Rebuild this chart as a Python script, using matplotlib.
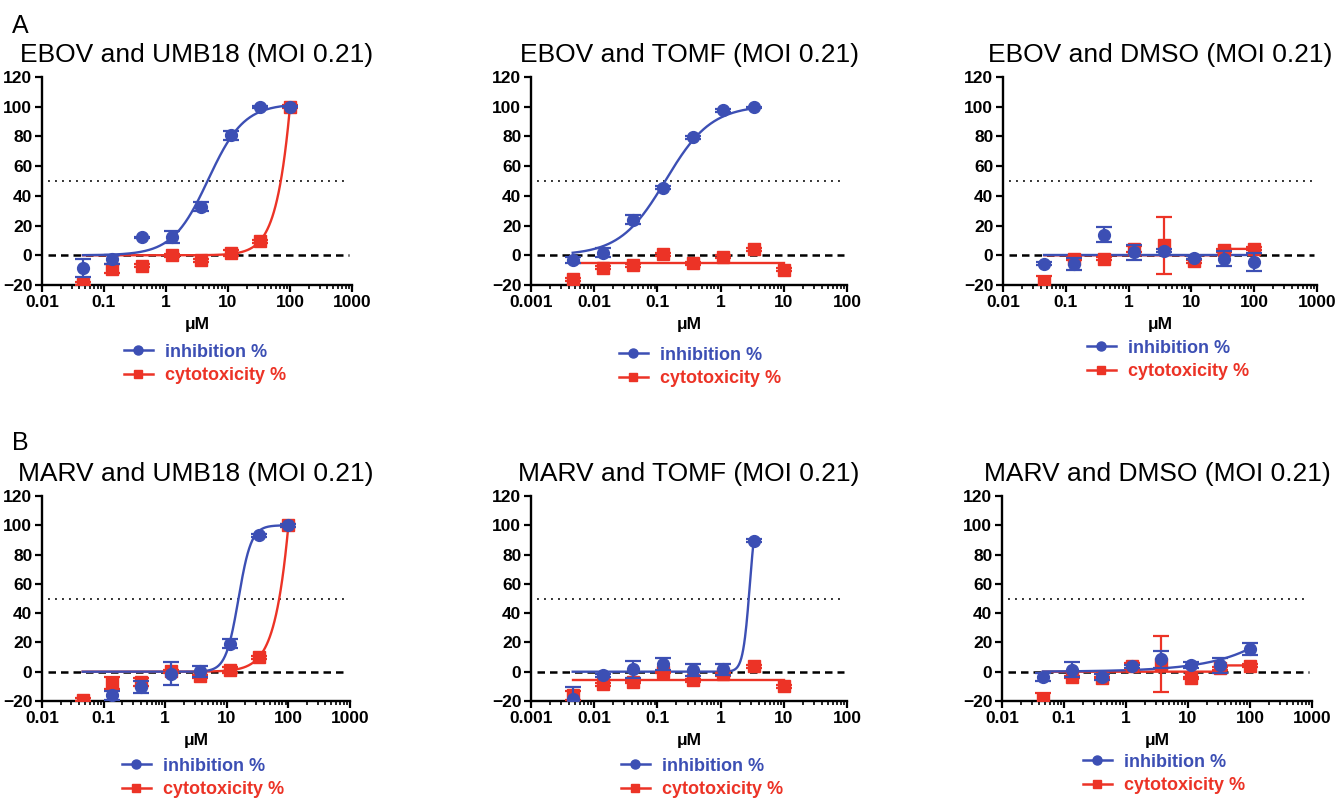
import numpy as np
import matplotlib
matplotlib.use('Agg')
import matplotlib.pyplot as plt
import matplotlib.ticker as mticker
from matplotlib.lines import Line2D

plt.rcParams['font.family'] = ['Liberation Sans', 'DejaVu Sans']

BLUE = '#3c4fb4'
RED = '#ec3326'

## Data
titles = ['EBOV and UMB18 (MOI 0.21)', 'EBOV and TOMF (MOI 0.21)', 'EBOV and DMSO (MOI 0.21)',
          'MARV and UMB18 (MOI 0.21)', 'MARV and TOMF (MOI 0.21)', 'MARV and DMSO (MOI 0.21)']

# concentrations in uM (3-fold dilutions)
conc_umb = [0.0457, 0.137, 0.412, 1.23, 3.70, 11.1, 33.3, 100]
conc_tomf = [0.00457, 0.0137, 0.0412, 0.123, 0.370, 1.11, 3.33, 10]

xlims = [(0.01, 1000), (0.001, 100), (0.01, 1000),
         (0.01, 1000), (0.001, 100), (0.01, 1000)]

# inhibition %
inh_x = [conc_umb, conc_tomf[:7], conc_umb, conc_umb[1:], conc_tomf[:7], conc_umb]
inh_y = [[-8.7, -2.7, 12.1, 12.5, 32.7, 80.9, 99.9, 100.0],
         [-2.9, 1.6, 23.8, 45.3, 79.3, 97.6, 99.5],
         [-5.6, -5.6, 13.8, 2.0, 3.1, -1.8, -2.4, -4.7],
         [-16.2, -10.5, -1.4, 0.2, 19.1, 93.1, 99.9],
         [-18.5, -2.5, 1.6, 5.5, 1.4, 1.6, 89.3],
         [-3.6, 1.4, -3.6, 3.6, 8.4, 4.3, 4.3, 15.7]]
inh_err = [[6, 3, 0.5, 4, 3, 3, 0.5, 0.5],
           [2, 3, 3, 1, 1, 1, 0.5],
           [1, 4, 5, 5, 1, 1, 5, 6],
           [3, 4, 8, 4, 3, 1, 1],
           [8, 1, 6, 4, 4, 4, 1],
           [3, 5, 2, 1, 6, 2, 5, 4]]

# cytotoxicity %
cyt_x = [conc_umb, conc_tomf, conc_umb, conc_umb, conc_tomf, conc_umb]
cyt_y = [[-19.3, -9.2, -7.0, 0.0, -3.4, 1.3, 9.6, 100.0],
         [-16.2, -8.4, -6.7, 0.7, -5.3, -0.9, 4.2, -9.6],
         [-18.0, -2.4, -2.4, 4.2, 6.7, -4.0, 3.3, 4.5],
         [-19.1, -7.7, -7.0, 0.2, -3.2, 1.4, 9.8, 100.0],
         [-16.2, -8.7, -7.0, -0.2, -5.9, -1.8, 3.6, -9.8],
         [-18.4, -3.6, -4.3, 4.1, 5.2, -4.3, 2.5, 4.1]]
cyt_err = [[1, 3, 1, 1, 1, 2, 1, 1],
           [1, 1, 1, 1, 1, 1, 1, 1],
           [4, 1, 1, 2, 19, 1, 1, 1],
           [1, 4, 3, 1, 1, 2, 1, 1],
           [3, 1, 1, 1, 1, 1, 1, 1],
           [4, 1, 1, 2, 19, 1, 1, 1]]

# fitted dose-response curves: (bottom, top, EC50, hill slope)
inh_fit = [(0, 102, 4.8, 1.5), (0, 101, 0.135, 1.2), (0, 0, 1, 1),
           (0, 100, 15.5, 4.2), (0, 120, 2.91, 7.9), (0, 1000, 96000, 0.6)]
cyt_fit = [(0, 1000, 274, 2.18), (-5.3, -5.3, 1, 1), (0, 4.3, 28, 40),
           (0, 1000, 274, 2.18), (-5.9, -5.9, 1, 1), (0, 4.3, 28, 40)]


def hill(x, bottom, top, ec50, slope):
    return bottom + (top - bottom) / (1 + (ec50 / x) ** slope)


## Layout (pixels: left, right, top, bottom)
W, H = 1344, 801
rects = [(42, 352, 77, 285), (531, 847, 77, 285), (1003, 1317, 77, 285),
         (42, 350, 496, 701), (531, 847, 496, 701), (1002, 1312, 496, 701)]
legend_pos = [(205, 364), (700, 367), (1168, 360), (203, 778), (702, 778), (1164, 774)]

fig = plt.figure(figsize=(W / 100, H / 100), dpi=100)
fig.text(12 / W, 1 - 33 / H, 'A', fontsize=18)
fig.text(12 / W, 1 - 450 / H, 'B', fontsize=18)

for i in range(6):
    l, r, t, b = rects[i]
    ax = fig.add_axes([l / W, 1 - b / H, (r - l) / W, (b - t) / H])
    ax.set_xscale('log')
    ax.set_xlim(*xlims[i])
    ax.set_ylim(-20, 120)

    ax.axhline(0, xmin=0.02, xmax=0.99, color='black', lw=1.8, ls=(0, (3, 2)), zorder=1)
    ax.axhline(50, xmin=0.02, xmax=0.99, color='#333333', lw=1.4, ls=(0, (1, 2.6)), zorder=1)

    lo = min(min(inh_x[i]), min(cyt_x[i]))
    xc = np.logspace(np.log10(lo), np.log10(max(cyt_x[i])), 400)
    ax.plot(xc, hill(xc, *cyt_fit[i]), color=RED, lw=1.7, zorder=2)
    xi = np.logspace(np.log10(lo), np.log10(max(inh_x[i])), 400)
    ax.plot(xi, hill(xi, *inh_fit[i]), color=BLUE, lw=1.7, zorder=3)

    ax.errorbar(cyt_x[i], cyt_y[i], yerr=cyt_err[i], fmt='s', color=RED, ms=8,
                elinewidth=1.6, capsize=5.5, capthick=1.6, zorder=4)
    ax.errorbar(inh_x[i], inh_y[i], yerr=inh_err[i], fmt='o', color=BLUE, ms=8.5,
                elinewidth=1.6, capsize=5.5, capthick=1.6, zorder=5)

    for s in ['top', 'right']:
        ax.spines[s].set_visible(False)
    for s in ['left', 'bottom']:
        ax.spines[s].set_linewidth(1.7)

    ax.yaxis.set_major_locator(mticker.MultipleLocator(20))
    ax.xaxis.set_major_locator(mticker.LogLocator(base=10, numticks=10))
    ax.xaxis.set_minor_locator(mticker.LogLocator(base=10, subs=np.arange(2, 10), numticks=20))
    ax.xaxis.set_major_formatter(mticker.FuncFormatter(lambda v, _: f'{v:g}'))
    ax.xaxis.set_minor_formatter(mticker.NullFormatter())
    ax.tick_params(which='major', length=5, width=1.6, pad=2, labelsize=12.5)
    ax.tick_params(which='minor', length=3, width=1.2)
    for lab in ax.get_xticklabels() + ax.get_yticklabels():
        lab.set_fontweight('bold')

    ax.set_title(titles[i], fontsize=19, pad=11)
    ax.set_xlabel('μM', fontsize=12.5, fontweight='bold', labelpad=5)

    handles = [Line2D([], [], color=BLUE, marker='o', ms=6.5, lw=1.8),
               Line2D([], [], color=RED, marker='s', ms=6, lw=1.8)]
    lx, ly = legend_pos[i]
    ax.legend(handles, ['inhibition %', 'cytotoxicity %'], loc='center',
              bbox_to_anchor=(lx / W, 1 - ly / H), bbox_transform=fig.transFigure,
              frameon=False, prop={'weight': 'bold', 'size': 13},
              labelcolor=[BLUE, RED], handlelength=1.6, handletextpad=0.7,
              labelspacing=0.38, borderpad=0)

fig.savefig('out.png', dpi=100)
